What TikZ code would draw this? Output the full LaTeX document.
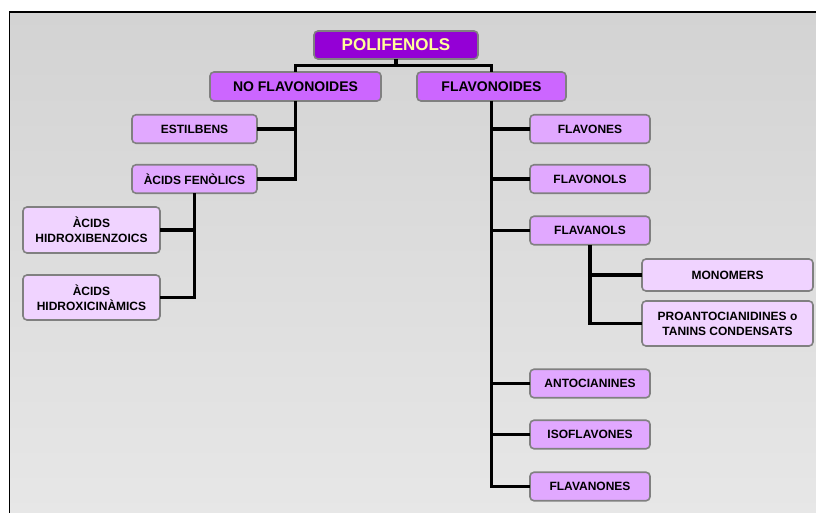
\documentclass[tikz,border=0pt]{standalone}
\usepackage{fontspec}
\setmainfont{Liberation Sans}
\definecolor{bgtop}{RGB}{211,211,211}
\definecolor{bgbot}{RGB}{231,231,231}
\definecolor{lvl0}{RGB}{148,0,214}
\definecolor{lvl0txt}{RGB}{255,255,153}
\definecolor{lvl1}{RGB}{204,102,255}
\definecolor{lvl2}{RGB}{225,168,255}
\definecolor{lvl3}{RGB}{240,211,255}
\definecolor{boxline}{RGB}{128,128,128}
\begin{document}
\begin{tikzpicture}[x=1pt,y=-1pt,
  box/.style={draw=boxline,line width=1.6pt,rounded corners=4pt,inner sep=0pt,outer sep=0pt,
    align=center,font=\fontsize{12}{15}\selectfont\bfseries,text=black},
  rootbox/.style={box,fill=lvl0,text=lvl0txt,minimum width=164pt,minimum height=28pt,font=\fontsize{17}{20}\selectfont\bfseries},
  onebox/.style={box,fill=lvl1,minimum height=29pt,font=\fontsize{14}{17}\selectfont\bfseries},
  twobox/.style={box,fill=lvl2,minimum width=120pt,minimum height=28.5pt},
  threebox/.style={box,fill=lvl3,minimum width=137pt},
  link/.style={draw=black,line width=3.6pt}]
\useasboundingbox (0,0) rectangle (816,513);
\shade[top color=bgtop,bottom color=bgbot] (9.5,12) rectangle (818,515);
\draw[line width=1.5pt,black] (9.5,515) -- (9.5,12) -- (818,12);

\node[rootbox] (poli) at (396,45) {POLIFENOLS};
\node[onebox,minimum width=171pt] (nof) at (295.5,86.5) {NO FLAVONOIDES};
\node[onebox,minimum width=149pt] (fla) at (491.5,86.5) {FLAVONOIDES};

\node[twobox,minimum width=125pt] (est) at (194.5,129) {ESTILBENS};
\node[twobox,minimum width=125pt] (acf) at (194.5,179) {ÀCIDS FENÒLICS};
\node[threebox,minimum height=46pt] (hb) at (91.5,230) {ÀCIDS\\HIDROXIBENZOICS};
\node[threebox,minimum height=45pt] (hc) at (91.5,297.5) {ÀCIDS\\HIDROXICINÀMICS};

\node[twobox] (fvs) at (590,129) {FLAVONES};
\node[twobox] (fvo) at (590,179) {FLAVONOLS};
\node[twobox] (fva) at (590,230.5) {FLAVANOLS};
\node[threebox,minimum width=171pt,minimum height=32pt] (mon) at (727.5,275) {MONOMERS};
\node[threebox,minimum width=171pt,minimum height=45pt] (pro) at (727.5,323.5) {PROANTOCIANIDINES o\\TANINS CONDENSATS};
\node[twobox] (ant) at (590,383.5) {ANTOCIANINES};
\node[twobox] (iso) at (590,434.5) {ISOFLAVONES};
\node[twobox] (fnn) at (590,486.5) {FLAVANONES};

\draw[link] (poli.south) -- ++(0,6.5) -| (nof.north);
\draw[link] (poli.south) -- ++(0,6.5) -| (fla.north);
\draw[link] (nof.south) |- (acf.east);
\draw[link] (est.east) -- (est.east -| nof.south);
\draw[link] (acf.south) |- (hc.east);
\draw[link] (hb.east) -- (hb.east -| acf.south);
\draw[link] (fla.south) |- (fnn.west);
\draw[link] (fvs.west) -- (fvs.west -| fla.south);
\draw[link] (fvo.west) -- (fvo.west -| fla.south);
\draw[link] (fva.west) -- (fva.west -| fla.south);
\draw[link] (ant.west) -- (ant.west -| fla.south);
\draw[link] (iso.west) -- (iso.west -| fla.south);
\draw[link] (fva.south) |- (pro.west);
\draw[link] (mon.west) -- (mon.west -| fva.south);
\end{tikzpicture}
\end{document}
